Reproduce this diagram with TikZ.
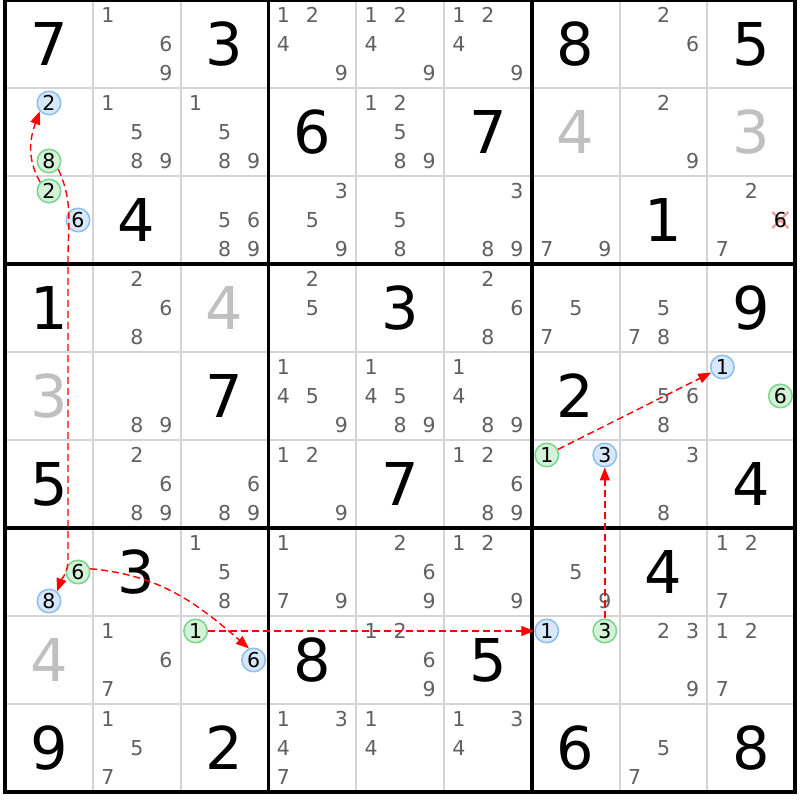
\documentclass[tikz,border=0pt]{standalone}
\usepackage{fontspec}
\setmainfont{DejaVu Sans}
\usetikzlibrary{arrows.meta}
\definecolor{candgray}{RGB}{96,96,96}
\definecolor{gridgray}{RGB}{212,212,212}
\definecolor{lightgiven}{RGB}{192,192,192}
\definecolor{bfill}{RGB}{214,232,250}
\definecolor{bdraw}{RGB}{140,190,240}
\definecolor{gfill}{RGB}{212,242,216}
\definecolor{gdraw}{RGB}{120,214,140}
\definecolor{chainred}{RGB}{255,0,0}
\definecolor{elimpink}{RGB}{242,150,150}
\newcommand{\chainnode}[5]{%
  \pgfmathsetmacro\candx{5+(#3-1)*87.8+15+mod(#4-1,3)*29}%
  \pgfmathsetmacro\candy{800-((#2-1)*88+15+floor((#4-1)/3)*29)}%
  \node[#5] (#1) at (\candx,\candy) {#4};}
\begin{document}
\begin{tikzpicture}[x=1pt,y=1pt,
  bigdigit/.style={font=\fontsize{59}{59}\selectfont, inner sep=0pt, text=black},
  lightdigit/.style={bigdigit, text=lightgiven},
  cand/.style={font=\fontsize{20.5}{20.5}\selectfont, inner sep=0pt, text=candgray},
  circand/.style={circle, inner sep=0pt, minimum size=23.5pt, line width=1.5pt,
    font=\fontsize{20.5}{20.5}\selectfont, text=black},
  bluecand/.style={circand, draw=bdraw, fill=bfill},
  greencand/.style={circand, draw=gdraw, fill=gfill},
  elimcand/.style={font=\fontsize{20.5}{20.5}\selectfont, inner sep=0pt, text=black},
  thingrid/.style={draw=gridgray, line width=2pt},
  thickgrid/.style={draw=black, line width=3.4pt},
  chainarrow/.style={draw=chainred, line width=1.4pt, dash pattern=on 7pt off 4pt,
    -{Triangle[length=13pt,width=10pt]}}]
\useasboundingbox (0,0) rectangle (800,800);
\fill[white] (0,0) rectangle (800,800);
% thin grid
\foreach \i in {1,2,4,5,7,8} {
  \draw[thingrid] ({5+\i*87.8},800) -- ({5+\i*87.8},8);
  \draw[thingrid] (5,{800-\i*88}) -- (795,{800-\i*88});
}
% thick grid
\foreach \i in {3,6} {
  \draw[thickgrid] ({5+\i*87.8},800) -- ({5+\i*87.8},8);
  \draw[thickgrid] (5,{800-\i*88}) -- (795,{800-\i*88});
}
\draw[thickgrid] (5,8) rectangle (795,800);
% givens
\foreach \r/\c/\d in {1/1/7,1/3/3,1/7/8,1/9/5,2/4/6,2/6/7,3/2/4,3/8/1,
  4/1/1,4/5/3,4/9/9,5/3/7,5/7/2,6/1/5,6/5/7,6/9/4,7/2/3,7/8/4,8/4/8,8/6/5,
  9/1/9,9/3/2,9/7/6,9/9/8} {
  \node[bigdigit] (g\r\c) at ({5+(\c-0.5)*87.8},{800-(\r-0.5)*88}) {\d};
}
\foreach \r/\c/\d in {2/7/4,2/9/3,4/3/4,5/1/3,8/1/4} {
  \node[lightdigit] (g\r\c) at ({5+(\c-0.5)*87.8},{800-(\r-0.5)*88}) {\d};
}
% candidates
\foreach \r/\c/\ds in {1/2/{1,6,9},1/4/{1,2,4,9},1/5/{1,2,4,9},1/6/{1,2,4,9},1/8/{2,6},
  2/2/{1,5,8,9},2/3/{1,5,8,9},2/5/{1,2,5,8,9},2/8/{2,9},
  3/3/{5,6,8,9},3/4/{3,5,9},3/5/{5,8},3/6/{3,8,9},3/7/{7,9},3/9/{2,7},
  4/2/{2,6,8},4/4/{2,5},4/6/{2,6,8},4/7/{5,7},4/8/{5,7,8},
  5/2/{8,9},5/4/{1,4,5,9},5/5/{1,4,5,8,9},5/6/{1,4,8,9},5/8/{5,6,8},
  6/2/{2,6,8,9},6/3/{6,8,9},6/4/{1,2,9},6/6/{1,2,6,8,9},6/8/{3,8},
  7/3/{1,5,8},7/4/{1,7,9},7/5/{2,6,9},7/6/{1,2,9},7/7/{5,9},7/9/{1,2,7},
  8/2/{1,6,7},8/5/{1,2,6,9},8/8/{2,3,9},8/9/{1,2,7},
  9/2/{1,5,7},9/4/{1,3,4,7},9/5/{1,4},9/6/{1,3,4},9/8/{5,7}} {
  \foreach \d in \ds {
    \pgfmathsetmacro\candx{5+(\c-1)*87.8+15+mod(\d-1,3)*29}
    \pgfmathsetmacro\candy{800-((\r-1)*88+15+floor((\d-1)/3)*29)}
    \node[cand] (c\r\c\d) at (\candx,\candy) {\d};
  }
}
% eliminated candidate
\coordinate (xc) at ({5+8*87.8+15+2*29},{800-(2*88+15+29)});
\draw[elimpink, line width=2.2pt] ([shift={(-8,-8)}]xc) -- ([shift={(8,8)}]xc)
  ([shift={(-8,8)}]xc) -- ([shift={(8,-8)}]xc);
\node[elimcand] (e396) at (xc) {6};
% chain candidates
\chainnode{b21}{2}{1}{2}{bluecand}
\chainnode{g21}{2}{1}{8}{greencand}
\chainnode{g31}{3}{1}{2}{greencand}
\chainnode{b31}{3}{1}{6}{bluecand}
\chainnode{b59}{5}{9}{1}{bluecand}
\chainnode{g59}{5}{9}{6}{greencand}
\chainnode{g67}{6}{7}{1}{greencand}
\chainnode{b67}{6}{7}{3}{bluecand}
\chainnode{g71}{7}{1}{6}{greencand}
\chainnode{b71}{7}{1}{8}{bluecand}
\chainnode{g83}{8}{3}{1}{greencand}
\chainnode{b83}{8}{3}{6}{bluecand}
\chainnode{b87}{8}{7}{1}{bluecand}
\chainnode{g87}{8}{7}{3}{greencand}
% chain arrows
\draw[chainarrow] (g31.135) to[out=120,in=250] (b21.222);
\draw[chainarrow] (g21.-42) to[out=-65,in=90] (68,540) -- (68,240)
  to[out=-90,in=70] (b71.50);
\draw[chainarrow] (g71.15) to[out=-5,in=139] (b83.112);
\draw[chainarrow] (g83) -- (b87);
\draw[chainarrow] (g87) -- (b67);
\draw[chainarrow] (g67) -- (b59);
\end{tikzpicture}
\end{document}
